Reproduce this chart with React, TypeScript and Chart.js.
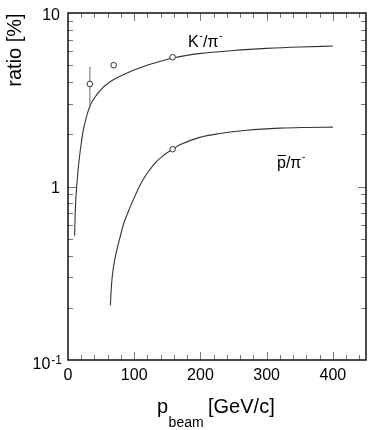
import React, { useEffect, useRef } from 'react';
import { Chart, registerables } from 'chart.js';

Chart.register(...registerables);

// K-/pi- curve (p_beam in GeV/c, ratio in %)
const kCurveP = [10, 11, 12, 13.1, 15, 17.5, 20, 22.2, 26, 29, 33, 40, 48, 63, 85, 113, 135, 158, 200, 250, 300, 350, 400];
const kCurveR = [0.52, 0.72, 0.87, 1.0, 1.22, 1.5, 1.77, 2.03, 2.36, 2.61, 2.9, 3.24, 3.56, 4.0, 4.44, 4.9, 5.2, 5.5, 5.85, 6.08, 6.25, 6.37, 6.45];

// pbar/pi- curve
const pCurveP = [64, 65.5, 68, 71.5, 78, 84, 90.6, 98.6, 113, 131, 145, 158, 169, 199, 229, 270, 320, 360, 400];
const pCurveR = [0.207, 0.265, 0.33, 0.394, 0.5, 0.61, 0.71, 0.84, 1.09, 1.36, 1.52, 1.64, 1.74, 1.92, 2.02, 2.11, 2.17, 2.19, 2.2];

// measured points
const measP = [33, 69, 158, 158];
const measR = [3.9, 5.0, 5.56, 1.64];

// error bar on the first point
const errP = 33;
const errLow = 2.88;
const errHigh = 4.9;

// axes
const xTickValues = [0, 100, 200, 300, 400];
const xTickLabels = ['0', '100', '200', '300', '400'];
const yTickValues = [0.1, 1, 10];
const yTickBase = ['10', '1', '10'];
const yTickExp = ['-1', '', ''];

const FONT = '"Liberation Sans", Arial, Helvetica, sans-serif';

const pts = (xs: number[], ys: number[]) => xs.map((x, i) => ({ x, y: ys[i] }));

const framePlugin = {
  id: 'frameTicks',
  afterDraw(chart: any) {
    const { ctx, chartArea: a, scales } = chart;
    const x = scales.x;
    const y = scales.y;
    ctx.save();

    const seg = (x1: number, y1: number, x2: number, y2: number) => {
      ctx.beginPath();
      ctx.moveTo(x1, y1);
      ctx.lineTo(x2, y2);
      ctx.stroke();
    };

    // x ticks (top and bottom, inward)
    ctx.strokeStyle = '#777';
    ctx.lineWidth = 1;
    for (let v = 20; v < 450; v += 20) {
      const px = Math.round(x.getPixelForValue(v)) + 0.5;
      const len = v % 100 === 0 ? 8 : 5;
      seg(px, a.bottom, px, a.bottom - len);
      seg(px, a.top, px, a.top + len);
    }
    // y ticks (left and right, inward)
    for (const dec of [0.1, 1]) {
      for (let m = 1; m <= 9; m++) {
        const v = dec * m;
        if (v === 0.1) continue;
        const py = Math.round(y.getPixelForValue(v)) + 0.5;
        const len = m === 1 ? 8 : 5;
        seg(a.left, py, a.left + len, py);
        seg(a.right, py, a.right - len, py);
      }
    }

    // frame
    ctx.strokeStyle = '#111';
    ctx.lineWidth = 1.5;
    ctx.strokeRect(a.left, a.top, a.right - a.left, a.bottom - a.top);

    ctx.fillStyle = '#000';
    // x tick labels
    ctx.font = `16px ${FONT}`;
    ctx.textAlign = 'center';
    ctx.textBaseline = 'alphabetic';
    xTickValues.forEach((v, i) => {
      ctx.fillText(xTickLabels[i], x.getPixelForValue(v), a.bottom + 20);
    });

    // y tick labels
    yTickValues.forEach((v, i) => {
      const py = y.getPixelForValue(v);
      if (yTickExp[i]) {
        ctx.font = `12px ${FONT}`;
        ctx.textAlign = 'right';
        ctx.fillText(yTickExp[i], 62, py + 4);
        const ew = ctx.measureText(yTickExp[i]).width;
        ctx.font = `16px ${FONT}`;
        ctx.fillText(yTickBase[i], 62 - ew - 1, py + 9);
      } else {
        ctx.font = `16px ${FONT}`;
        ctx.textAlign = 'right';
        ctx.fillText(yTickBase[i], 60, py + (v === 10 ? 7 : 6));
      }
    });

    // y title
    ctx.save();
    ctx.translate(21, 50);
    ctx.rotate(-Math.PI / 2);
    ctx.font = `20px ${FONT}`;
    ctx.textAlign = 'center';
    ctx.textBaseline = 'alphabetic';
    ctx.fillText('ratio [%]', 0, 0);
    ctx.restore();

    // x title: p_beam [GeV/c]
    ctx.textAlign = 'left';
    ctx.font = `20px ${FONT}`;
    ctx.fillText('p', 157, 413);
    const pw = ctx.measureText('p').width;
    ctx.font = `14px ${FONT}`;
    ctx.fillText('beam', 157 + pw + 0.5, 427);
    ctx.font = `20px ${FONT}`;
    ctx.fillText('[GeV/c]', 208, 413);

    // curve labels
    const drawRatio = (num: string, bar: boolean, x0: number, base: number) => {
      let cx = x0;
      ctx.font = `16px ${FONT}`;
      ctx.fillText(num, cx, base);
      const nw = ctx.measureText(num).width;
      if (bar) {
        ctx.strokeStyle = '#000';
        ctx.lineWidth = 1;
        seg(cx + 0.5, base - 12.5, cx + nw, base - 12.5);
      }
      cx += nw;
      if (!bar) {
        ctx.font = `10px ${FONT}`;
        ctx.fillText('-', cx + 0.5, base - 8);
        cx += ctx.measureText('-').width + 1;
      }
      ctx.font = `16px ${FONT}`;
      ctx.fillText('/\u03c0', cx, base);
      cx += ctx.measureText('/\u03c0').width;
      ctx.font = `10px ${FONT}`;
      ctx.fillText('-', cx + 0.5, base - 8);
    };
    drawRatio('K', false, 188, 47);
    drawRatio('p', true, 277, 168);

    ctx.restore();
  },
};

export default function App() {
  const ref = useRef<HTMLCanvasElement>(null);

  useEffect(() => {
    if (!ref.current) return;
    const chart = new Chart(ref.current, {
      type: 'line',
      data: {
        datasets: [
          {
            label: 'measured',
            data: pts(measP, measR),
            showLine: false,
            pointRadius: 2.8,
            pointBackgroundColor: '#fff',
            pointBorderColor: '#333',
            pointBorderWidth: 1,
            borderColor: '#333',
          },
          {
            label: 'error',
            data: [
              { x: errP, y: errLow },
              { x: errP, y: errHigh },
            ],
            borderColor: '#8a8a8a',
            borderWidth: 1.3,
            pointRadius: 0,
          },
          {
            label: 'K-/pi-',
            data: pts(kCurveP, kCurveR),
            borderColor: '#333',
            borderWidth: 1.1,
            pointRadius: 0,
            cubicInterpolationMode: 'monotone',
          },
          {
            label: 'pbar/pi-',
            data: pts(pCurveP, pCurveR),
            borderColor: '#333',
            borderWidth: 1.1,
            pointRadius: 0,
            cubicInterpolationMode: 'monotone',
          },
        ],
      },
      options: {
        responsive: false,
        animation: false,
        layout: { padding: { left: 68, right: 16, top: 13, bottom: 70 } },
        plugins: {
          legend: { display: false },
          tooltip: { enabled: false },
        },
        scales: {
          x: { type: 'linear', min: 0, max: 450, display: false },
          y: { type: 'logarithmic', min: 0.1, max: 10, display: false },
        },
      },
      plugins: [framePlugin],
    });
    return () => chart.destroy();
  }, []);

  return (
    <div style={{ position: 'absolute', left: 0, top: 0, width: 382, height: 430 }}>
      <canvas ref={ref} width={382} height={430} style={{ display: 'block' }} />
    </div>
  );
}
